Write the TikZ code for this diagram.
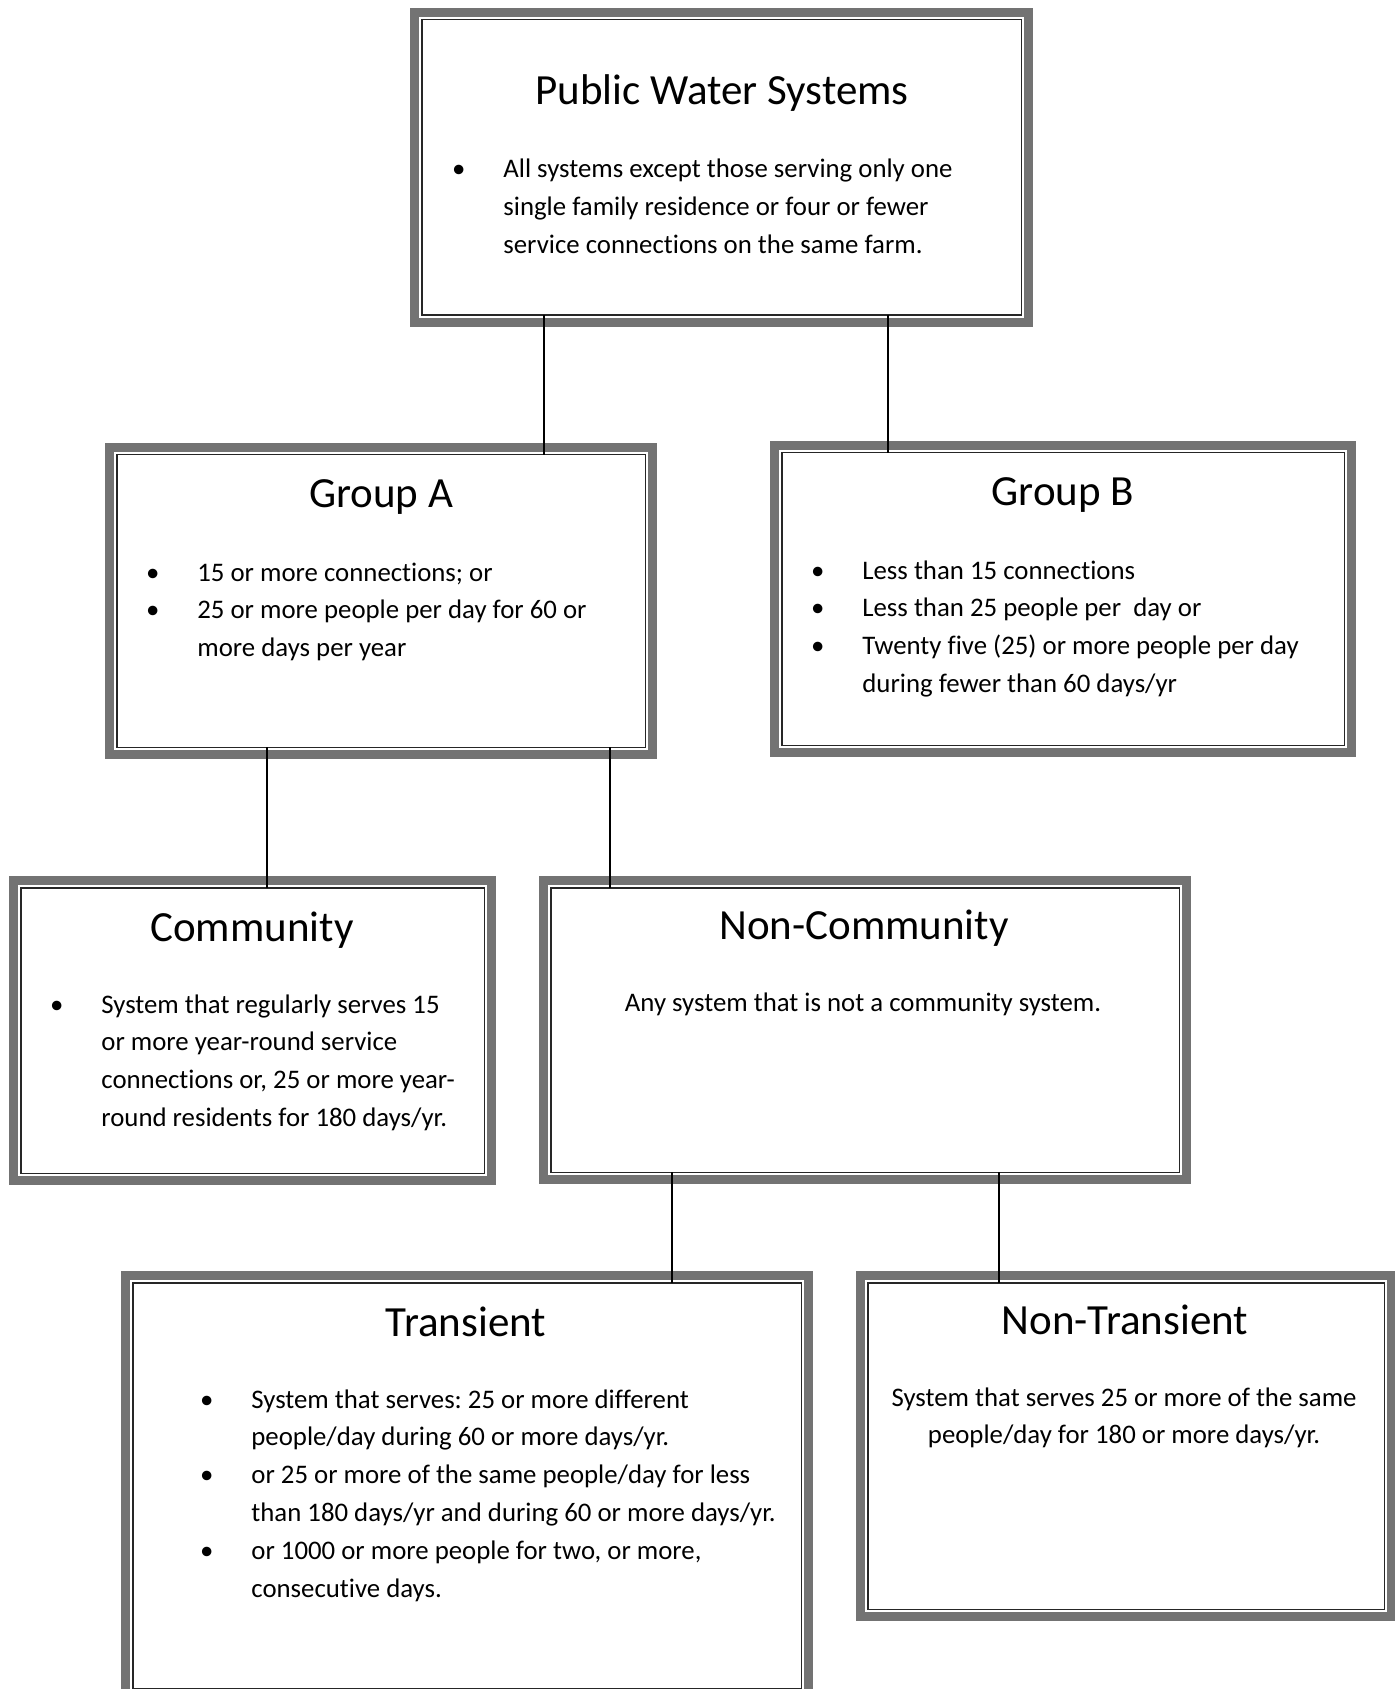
\documentclass[tikz,border=0pt]{standalone}
\usepackage{fontspec}
\setmainfont[RawFeature={-liga}]{Carlito}
\frenchspacing
\usetikzlibrary{fit}
\tikzset{
  pbox/.style={draw=black!55, line width=4.5pt, fill=white, inner sep=0pt, outer sep=0pt,
    path picture={\draw[black!85, line width=0.8pt]
      ([xshift=3.6pt,yshift=3.6pt]path picture bounding box.south west) rectangle
      ([xshift=-3.6pt,yshift=-3.6pt]path picture bounding box.north east);}},
  ttl/.style={anchor=base, inner sep=0pt, font=\fontsize{21.5}{25}\selectfont},
  body/.style={anchor=base west, inner sep=0pt, font=\fontsize{13.4}{18.9}\selectfont},
  cbody/.style={anchor=base, inner sep=0pt, font=\fontsize{13.4}{18.9}\selectfont},
  conn/.style={draw=black, line width=1.4pt, shorten <=-3.6pt, shorten >=-3.6pt},
}
\newcommand\bul{\llap{\textbullet\hspace{19pt}}}
\begin{document}
\begin{tikzpicture}[x=0.5pt,y=-0.5pt]
\useasboundingbox[fill=white] (0,0) rectangle (1395,1689);

% boxes
\node[pbox, fit={(414.5,12.5) (1028.5,322.5)}] (pws) {};
\node[pbox, fit={(109.5,447.5) (652.5,754.5)}] (ga) {};
\node[pbox, fit={(774.5,445.5) (1351.5,752.5)}] (gb) {};
\node[pbox, fit={(13.5,880.5) (491.5,1180.5)}] (comm) {};
\node[pbox, fit={(543.5,880.5) (1186.5,1179.5)}] (nc) {};
\node[pbox, fit={(125.5,1275.5) (808.5,1695.5)}] (tr) {};
\node[pbox, fit={(860.5,1275.5) (1391.5,1616.5)}] (nt) {};

% titles
\node[ttl] (pwst) at (722,105) {Public Water Systems};
\node[ttl] (gat) at (381,508) {Group A};
\node[ttl] (gbt) at (1063,506) {Group B};
\node[ttl] (commt) at (252,941) {Community};
\node[ttl] (nct) at (864,939) {Non-Community};
\node[ttl] (trt) at (466,1336) {Transient};
\node[ttl] (ntt) at (1125,1334) {Non-Transient};

% bodies
\node[body] (pwsb) at (503,178) {\begin{tabular}[t]{@{}l@{}}
\bul All systems except those serving only one\\
single family residence or four or fewer\\
service connections on the same farm.\end{tabular}};
\node[body] (gab) at (197,581) {\begin{tabular}[t]{@{}l@{}}
\bul 15 or more connections; or\\
\bul 25 or more people per day for 60 or\\
more days per year\end{tabular}};
\node[body] (gbb) at (862,579) {\begin{tabular}[t]{@{}l@{}}
\bul Less than 15 connections\\
\bul Less than 25 people per\ \ day or\\
\bul Twenty five (25) or more people per day\\
during fewer than 60 days/yr\end{tabular}};
\node[body] (commb) at (101,1013) {\begin{tabular}[t]{@{}l@{}}
\bul System that regularly serves 15\\
or more year-round service\\
connections or, 25 or more year-\\
round residents for 180 days/yr.\end{tabular}};
\node[cbody] (ncb) at (863,1011) {Any system that is not a community system.};
\node[body] (trb) at (251,1408) {\begin{tabular}[t]{@{}l@{}}
\bul System that serves: 25 or more different\\
people/day during 60 or more days/yr.\\
\bul or 25 or more of the same people/day for less\\
than 180 days/yr and during 60 or more days/yr.\\
\bul or 1000 or more people for two, or more,\\
consecutive days.\end{tabular}};
\node[cbody] (ntb) at (1124,1406) {\begin{tabular}[t]{@{}c@{}}
System that serves 25 or more of the same\\
people/day for 180 or more days/yr.\end{tabular}};

% connector positions
\coordinate (x1) at (544,0);
\coordinate (x2) at (888,0);
\coordinate (x3) at (267,0);
\coordinate (x4) at (610,0);
\coordinate (x5) at (672,0);
\coordinate (x6) at (999,0);

\draw[conn] (pws.south -| x1) -- (ga.north -| x1);
\draw[conn] (pws.south -| x2) -- (gb.north -| x2);
\draw[conn] (ga.south -| x3) -- (comm.north -| x3);
\draw[conn] (ga.south -| x4) -- (nc.north -| x4);
\draw[conn] (nc.south -| x5) -- (tr.north -| x5);
\draw[conn] (nc.south -| x6) -- (nt.north -| x6);
\end{tikzpicture}
\end{document}
